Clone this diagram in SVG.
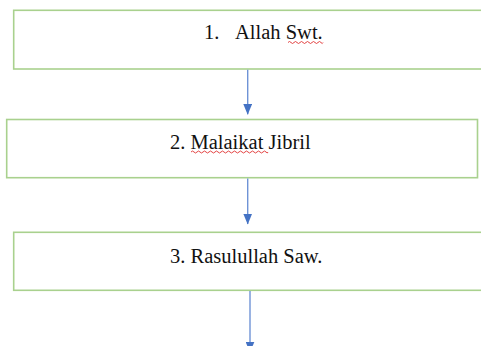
<svg xmlns="http://www.w3.org/2000/svg" width="481" height="346" viewBox="0 0 481 346">
<style>
.box{fill:#fff;stroke:#A9D18E;stroke-width:1.6}
.lbl{font-family:"Liberation Serif","Times New Roman",serif;font-size:20.5px;fill:#111}
.conn{stroke:#6F93D6;stroke-width:1.4;fill:none}
.wavy{stroke:#E03030;stroke-width:0.9;fill:none}
</style>
<defs>
<marker id="ah" markerWidth="11" markerHeight="9" refX="10.5" refY="4.5" orient="auto" markerUnits="userSpaceOnUse">
<path d="M0,0 L11,4.5 L0,9 Z" fill="#4472C4"/>
</marker>
</defs>
<rect width="481" height="346" fill="#fff"/>
<g id="node1">
<rect class="box" x="13.7" y="10.3" width="480" height="58.7"/>
<text class="lbl" y="39"><tspan x="204">1.</tspan><tspan x="235">Allah Swt.</tspan></text>
<path class="wavy" d="M288,42.5 q1.5,-2 3,0 t3,0 t3,0 t3,0 t3,0 t3,0 t3,0 t3,0 t3,0 t3,0 t3,0 t2,0"/>
</g>
<g id="node2">
<rect class="box" x="6.7" y="119.5" width="470.8" height="58.2"/>
<text class="lbl" x="170" y="149.3">2. Malaikat Jibril</text>
<path class="wavy" d="M191,152 q1.5,-2 3,0 t3,0 t3,0 t3,0 t3,0 t3,0 t3,0 t3,0 t3,0 t3,0 t3,0 t3,0 t3,0 t3,0 t3,0 t3,0 t3,0 t3,0 t3,0 t3,0 t3,0 t3,0 t3,0 t3,0 t3,0 t2,0"/>
</g>
<g id="node3">
<rect class="box" x="13.7" y="232.3" width="480" height="58"/>
<text class="lbl" x="170" y="262.7">3. Rasulullah Saw.</text>
</g>
<g id="connectors">
<line class="conn" x1="247.7" y1="69.8" x2="247.7" y2="114.3" marker-end="url(#ah)"/>
<line class="conn" x1="247.7" y1="178.5" x2="247.7" y2="224" marker-end="url(#ah)"/>
<line class="conn" x1="250" y1="291" x2="250" y2="352" marker-end="url(#ah)"/>
</g>
</svg>
